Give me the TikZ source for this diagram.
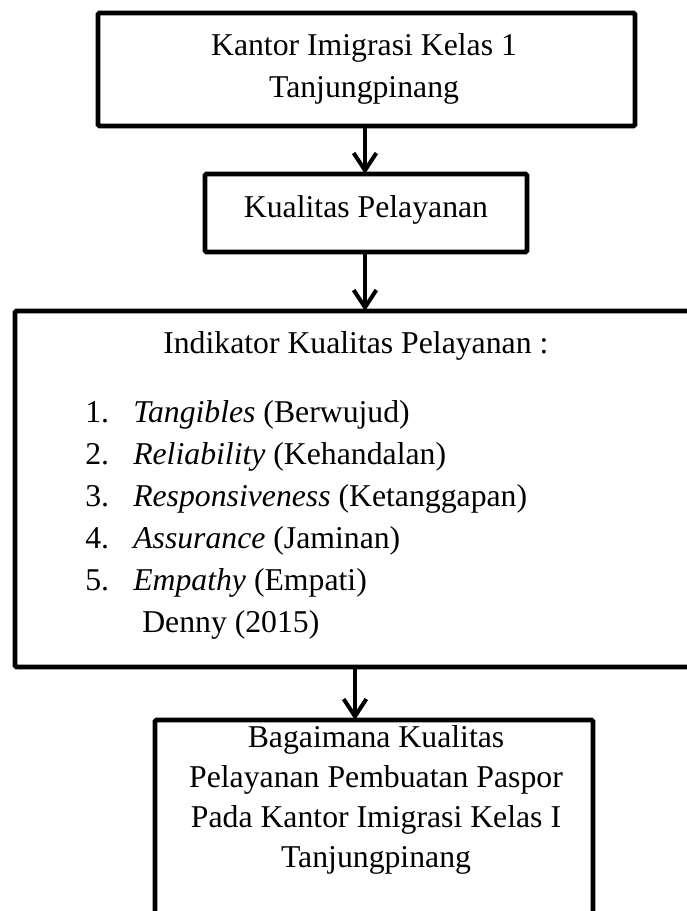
\documentclass[tikz,border=0pt]{standalone}
\usepackage{fontspec}
\setmainfont{Liberation Serif}
\usetikzlibrary{arrows.meta}
\begin{document}
\begin{tikzpicture}[x=0.75pt,y=-0.75pt,
  boxline/.style={line width=3.4pt,rounded corners=1pt},
  flow/.style={line width=3pt,-{Straight Barb[length=13pt,width=17pt,line width=3pt]}},
  txt/.style={inner sep=0pt,font=\fontsize{23.8}{29}\selectfont},
  lbl/.style={txt,anchor=base},
  lw/.style={txt,anchor=base west}]
\useasboundingbox (0,0) rectangle (686,911);
% boxes
\draw[boxline] (98,13) rectangle (635,126);
\coordinate (b1s) at (365,126);
\draw[boxline] (205,174) rectangle (527,252);
\coordinate (b2n) at (365,174);
\coordinate (b2s) at (365,252);
\draw[boxline] (15,311) rectangle (716,667);
\coordinate (b3n) at (365,311);
\coordinate (b3s) at (355,667);
\draw[boxline] (155,720) rectangle (593,940);
\coordinate (b4n) at (355,720);
% texts
\node[lbl] (t1a) at (364,55) {Kantor Imigrasi Kelas 1};
\node[lbl] (t1b) at (364,97) {Tanjungpinang};
\node[lbl] (t2) at (366,217) {Kualitas Pelayanan};
\node[lw] (t3) at (163,353) {Indikator Kualitas Pelayanan :};
\node[lw] (n1) at (85,422) {1.};
\node[lw] (i1) at (133,422) {\textit{Tangibles} (Berwujud)};
\node[lw] (n2) at (85,464) {2.};
\node[lw] (i2) at (133,464) {\textit{Reliability} (Kehandalan)};
\node[lw] (n3) at (85,506) {3.};
\node[lw] (i3) at (133,506) {\textit{Responsiveness} (Ketanggapan)};
\node[lw] (n4) at (85,548) {4.};
\node[lw] (i4) at (133,548) {\textit{Assurance} (Jaminan)};
\node[lw] (n5) at (85,590) {5.};
\node[lw] (i5) at (133,590) {\textit{Empathy} (Empati)};
\node[lw] (den) at (142,632) {Denny (2015)};
\node[lbl] (t4a) at (376,747) {Bagaimana Kualitas};
\node[lbl] (t4b) at (376,787) {Pelayanan Pembuatan Paspor};
\node[lbl] (t4c) at (376,827) {Pada Kantor Imigrasi Kelas I};
\node[lbl] (t4d) at (376,867) {Tanjungpinang};
% arrows
\draw[flow] (b1s) -- (b2n);
\draw[flow] (b2s) -- (b3n);
\draw[flow] (b3s) -- (b4n);
\end{tikzpicture}
\end{document}
